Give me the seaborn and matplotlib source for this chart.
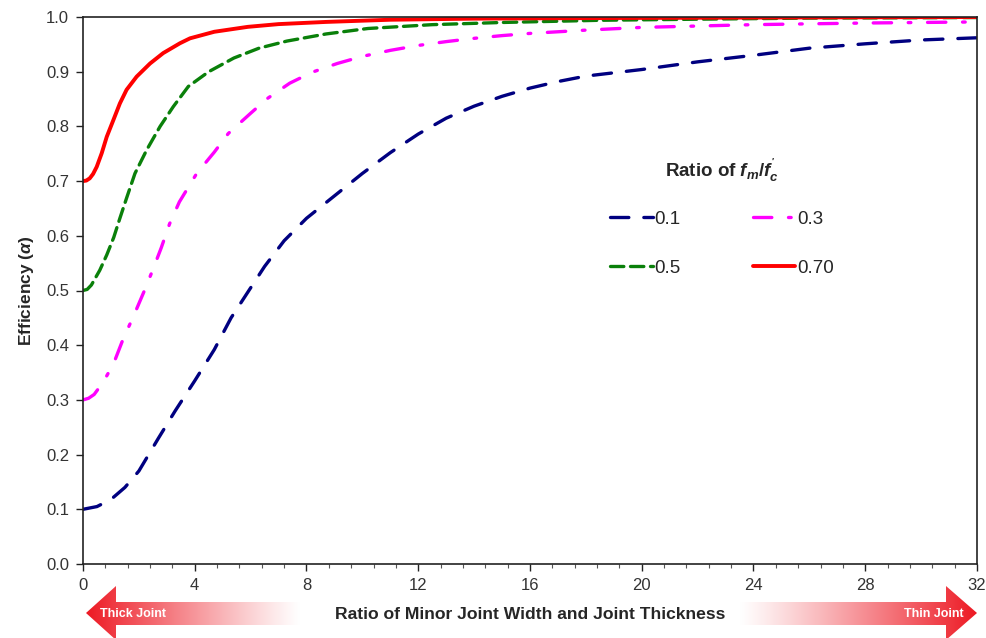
import numpy as np
import pandas as pd
import matplotlib
matplotlib.use("Agg")
import matplotlib.pyplot as plt
from matplotlib.patches import Polygon
from matplotlib.ticker import MultipleLocator
import seaborn as sns

# ---- data ----
x_01 = [0, 0.5, 1.0, 1.5, 2.0, 2.7, 3.3, 4.0, 4.7, 5.3, 5.9, 6.5, 7.2, 8.0, 9.0, 10.0,
        11.0, 12.0, 13.0, 14.0, 15.0, 16.0, 17.0, 18.0, 20.0, 22.0, 24.0, 26.0, 28.0, 30.0, 32.0]
y_01 = [0.100, 0.105, 0.118, 0.140, 0.170, 0.230, 0.280, 0.335, 0.392, 0.450, 0.497, 0.544,
        0.591, 0.632, 0.673, 0.714, 0.752, 0.786, 0.815, 0.837, 0.855, 0.870, 0.882, 0.892,
        0.904, 0.918, 0.930, 0.943, 0.951, 0.958, 0.962]

x_03 = [0, 0.2, 0.4, 0.73, 1.1, 1.45, 1.8, 2.2, 2.5, 2.8, 3.1, 3.45, 4.07, 4.7, 5.2, 6.0, 6.6,
        7.4, 8.2, 9.1, 10.0, 11.0, 12.0, 13.0, 14.0, 15.0, 16.0, 18.0, 20.0, 24.0, 28.0, 32.0]
y_03 = [0.300, 0.303, 0.310, 0.333, 0.367, 0.413, 0.452, 0.500, 0.538, 0.578, 0.622, 0.662,
        0.714, 0.753, 0.787, 0.824, 0.851, 0.879, 0.899, 0.915, 0.928, 0.939, 0.948, 0.955,
        0.961, 0.966, 0.970, 0.976, 0.981, 0.986, 0.989, 0.991]

x_05 = [0, 0.15, 0.3, 0.6, 0.85, 1.1, 1.32, 1.56, 1.86, 2.28, 2.76, 3.23, 3.77, 4.5, 5.4,
        6.3, 7.3, 8.7, 10.2, 12.5, 15.0, 18.5, 22.0, 26.0, 32.0]
y_05 = [0.500, 0.502, 0.510, 0.537, 0.565, 0.597, 0.632, 0.669, 0.714, 0.757, 0.800, 0.836,
        0.873, 0.900, 0.925, 0.943, 0.956, 0.969, 0.979, 0.986, 0.990, 0.994, 0.996, 0.998, 0.999]

x_07 = [0, 0.12, 0.24, 0.36, 0.49, 0.67, 0.85, 1.09, 1.32, 1.56, 1.92, 2.4, 2.87, 3.47, 3.83,
        4.7, 5.9, 7.0, 8.7, 11.0, 14.0, 18.0, 24.0, 32.0]
y_07 = [0.700, 0.701, 0.705, 0.713, 0.726, 0.751, 0.781, 0.812, 0.842, 0.867, 0.891, 0.915,
        0.934, 0.952, 0.961, 0.973, 0.982, 0.987, 0.991, 0.995, 0.997, 0.998, 0.999, 1.000]

labels = ["0.1", "0.3", "0.5", "0.70"]
x_ticks = [0, 4, 8, 12, 16, 20, 24, 28, 32]
y_ticks = [0.0, 0.1, 0.2, 0.3, 0.4, 0.5, 0.6, 0.7, 0.8, 0.9, 1.0]

series = {
    "0.1": (x_01, y_01),
    "0.3": (x_03, y_03),
    "0.5": (x_05, y_05),
    "0.70": (x_07, y_07),
}

styles = {
    "0.1": dict(color="#000080", ls=(0, (5.5, 4.5)), lw=2.4),
    "0.3": dict(color="#ff00ff", ls=(0, (5.5, 5.0, 0.8, 5.0)), lw=2.4),
    "0.5": dict(color="#0a800a", ls=(0, (4.0, 2.0)), lw=2.4),
    "0.70": dict(color="#ff0000", ls="-", lw=2.8),
}

sns.set_style("ticks")
plt.rcParams["font.family"] = ["Liberation Sans", "DejaVu Sans"]
plt.rcParams["mathtext.fontset"] = "custom"
plt.rcParams["mathtext.it"] = "Liberation Sans:italic:bold"
plt.rcParams["mathtext.rm"] = "Liberation Sans:bold"
plt.rcParams["mathtext.bf"] = "Liberation Sans:bold"

fig = plt.figure(figsize=(9.87, 6.38), dpi=100)
ax = fig.add_axes([83 / 987, 1 - 564 / 638, (977 - 83) / 987, (564 - 17) / 638])

frames = []
for lab in labels:
    xs, ys = series[lab]
    frames.append(pd.DataFrame({"x": xs, "y": ys, "ratio": lab}))
df = pd.concat(frames, ignore_index=True)

handles = {}
for lab in labels:
    sub = df[df["ratio"] == lab]
    st = styles[lab]
    sns.lineplot(data=sub, x="x", y="y", ax=ax, color=st["color"], linewidth=st["lw"],
                 linestyle=st["ls"], label=lab, sort=False, estimator=None)
    line = ax.get_lines()[-1]
    line.set_dash_capstyle("round")
    line.set_solid_capstyle("round")
    line.set_solid_joinstyle("round")
    line.set_dash_joinstyle("round")
    handles[lab] = line

ax.set_xlim(0, 32)
ax.set_ylim(0, 1.0)
ax.set_xticks(x_ticks)
ax.set_xticklabels([str(v) for v in x_ticks])
ax.set_yticks(y_ticks)
ax.set_yticklabels([f"{v:.1f}" for v in y_ticks])
ax.xaxis.set_minor_locator(MultipleLocator(0.8))
ax.tick_params(axis="both", which="major", direction="out", length=5, width=1.0,
               labelsize=12, colors="#222222", labelcolor="#333333", pad=5)
ax.tick_params(axis="x", which="minor", direction="out", length=3, width=0.8, colors="#555555")
for sp in ax.spines.values():
    sp.set_linewidth(1.2)
    sp.set_color("#222222")
    sp.set_visible(True)

ax.set_xlabel("Ratio of Minor Joint Width and Joint Thickness", fontsize=12.6,
              fontweight="bold", labelpad=10)
ax.set_ylabel(r"Efficiency ($\alpha$)", fontsize=12.5, fontweight="bold", labelpad=7)

leg = ax.legend([handles["0.1"], handles["0.5"], handles["0.3"], handles["0.70"]],
                ["0.1", "0.5", "0.3", "0.70"], ncol=2, frameon=False,
                title=r"Ratio of $f_m/f_c^{'}$", loc="upper left",
                bbox_to_anchor=(0.571, 0.7745), handlelength=2.25, handletextpad=0.1,
                columnspacing=3.85, labelspacing=1.7, fontsize=13.5,
                title_fontproperties={"weight": "bold", "size": 13.5})
leg._legend_box.sep = 19

# ---- gradient arrows below the axis ----
ov = fig.add_axes([0, 0, 1, 1], zorder=-1)
ov.set_xlim(0, 987)
ov.set_ylim(638, 0)
ov.axis("off")

red = np.array([0.93, 0.10, 0.14])
white = np.array([1.0, 1.0, 1.0])

def grad_image(reverse):
    t = np.linspace(0, 1, 256)
    if reverse:
        t = t[::-1]
    t = np.clip(t, 0, 1) ** 1.1
    img = white[None, :] * (1 - t[:, None]) + red[None, :] * t[:, None]
    return img[None, :, :]

left_poly = Polygon([(86, 613), (116, 586), (116, 602), (300, 602), (300, 625),
                     (116, 625), (116, 640), (86, 613)], closed=True,
                    facecolor="none", edgecolor="none")
ov.add_patch(left_poly)
im = ov.imshow(grad_image(True), extent=(86, 300, 640, 586), aspect="auto", zorder=1)
im.set_clip_path(left_poly)

right_poly = Polygon([(740, 602), (946, 602), (946, 586), (977, 613), (946, 640),
                      (946, 625), (740, 625)], closed=True,
                     facecolor="none", edgecolor="none")
ov.add_patch(right_poly)
im2 = ov.imshow(grad_image(False), extent=(740, 977, 640, 586), aspect="auto", zorder=1)
im2.set_clip_path(right_poly)
ov.set_xlim(0, 987)
ov.set_ylim(638, 0)

ov.text(100, 614, "Thick Joint", color="white", fontsize=9, fontweight="bold",
        ha="left", va="center", zorder=2)
ov.text(964, 614, "Thin Joint", color="white", fontsize=9, fontweight="bold",
        ha="right", va="center", zorder=2)

fig.savefig("out.png", dpi=100)
